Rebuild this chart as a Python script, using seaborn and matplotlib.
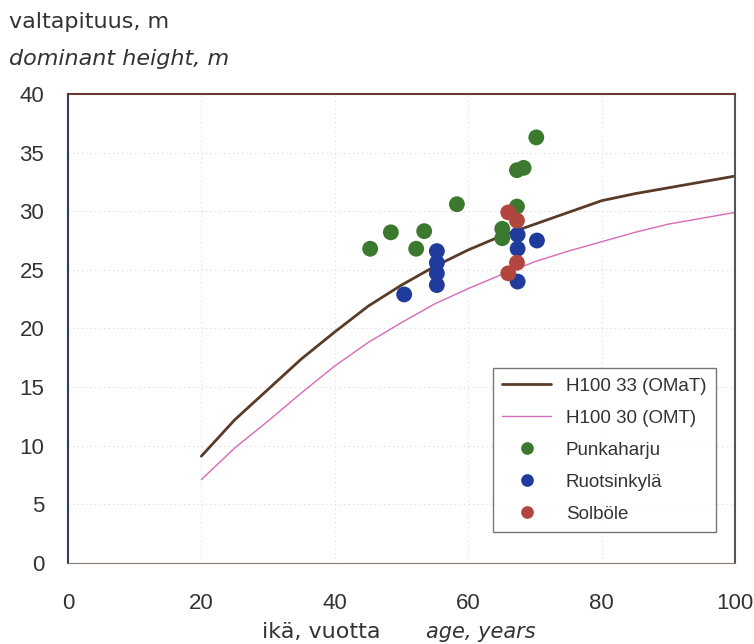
import pandas as pd
import seaborn as sns
import matplotlib.pyplot as plt

# Site index curves (age, dominant height)
curve_age = [20, 25, 30, 35, 40, 45, 50, 55, 60, 65, 70, 75, 80, 85, 90, 95, 100]
h100_33 = [9.1, 12.2, 14.8, 17.4, 19.7, 21.9, 23.7, 25.3, 26.7, 27.9, 28.9, 29.9, 30.9, 31.5, 32.0, 32.5, 33.0]
h100_30 = [7.1, 9.8, 12.1, 14.5, 16.8, 18.8, 20.5, 22.1, 23.4, 24.6, 25.7, 26.6, 27.4, 28.2, 28.9, 29.4, 29.9]

# Measured stands
punka_age = [45.3, 48.4, 52.2, 53.4, 58.3, 65.1, 65.1, 67.3, 67.3, 68.3, 70.2]
punka_h = [26.8, 28.2, 26.8, 28.3, 30.6, 28.5, 27.7, 30.4, 33.5, 33.7, 36.3]
ruots_age = [50.4, 55.3, 55.3, 55.3, 55.3, 67.4, 67.4, 67.4, 70.3]
ruots_h = [22.9, 26.6, 25.6, 24.7, 23.7, 28.0, 26.8, 24.0, 27.5]
solb_age = [66.0, 67.3, 67.3, 66.0]
solb_h = [29.9, 29.2, 25.6, 24.7]

sns.set_style("white")
plt.rcParams['font.family'] = ['DejaVu Sans']

curves = pd.DataFrame({'age': curve_age, 'h33': h100_33, 'h30': h100_30})
sites = pd.concat([
    pd.DataFrame({'age': punka_age, 'h': punka_h, 'site': 'Punkaharju'}),
    pd.DataFrame({'age': ruots_age, 'h': ruots_h, 'site': 'Ruotsinkylä'}),
    pd.DataFrame({'age': solb_age, 'h': solb_h, 'site': 'Solböle'}),
])
site_colors = {'Punkaharju': '#3b7a2e', 'Ruotsinkylä': '#1f3c9c', 'Solböle': '#b2453e'}

fig = plt.figure(figsize=(7.54, 6.44), dpi=100)
ax = fig.add_axes([0.090, 0.126, 0.885, 0.728])

sns.lineplot(data=curves, x='age', y='h33', ax=ax, color='#5a3b28', lw=2,
             label='H100 33 (OMaT)')
sns.lineplot(data=curves, x='age', y='h30', ax=ax, color='#d66ab8', lw=1,
             label='H100 30 (OMT)')
sns.scatterplot(data=sites, x='age', y='h', hue='site', palette=site_colors, ax=ax,
                s=130, edgecolor='none', zorder=3)

ax.set_xlim(0, 100)
ax.set_ylim(0, 40)
ax.set_xticks(range(0, 101, 20))
ax.set_yticks(range(0, 41, 5))
ax.tick_params(labelsize=16, colors='#333333', width=1)
ax.tick_params(axis='y', direction='out', length=5, pad=12)
ax.tick_params(axis='x', direction='inout', length=8, pad=18)
for lab in ax.get_xticklabels() + ax.get_yticklabels():
    lab.set_family('Liberation Sans')
ax.set_xlabel('')
ax.set_ylabel('')

for y in range(5, 40, 5):
    ax.axhline(y, color='#ecccd9', lw=0.8, ls=(0, (1, 3)), zorder=0)
for x in range(20, 100, 20):
    ax.axvline(x, color='#d2e2ee', lw=0.8, ls=(0, (1, 3)), zorder=0)

for side in ['left', 'right', 'top', 'bottom']:
    ax.spines[side].set_visible(True)
ax.spines['left'].set_color('#2f3f5a')
ax.spines['right'].set_color('#555555')
ax.spines['top'].set_color('#6a3a30')
ax.spines['bottom'].set_color('#8a7a70')
ax.spines['left'].set_linewidth(1.5)
ax.spines['top'].set_linewidth(1.5)
ax.spines['right'].set_linewidth(1.5)

fig.text(0.012, 0.966, 'valtapituus, m', fontsize=16, color='#333333', va='center')
fig.text(0.012, 0.909, 'dominant height, m', fontsize=16, color='#333333',
         style='italic', va='center')
fig.text(0.504, 0.018, 'ikä, vuotta', fontsize=16, color='#333333', ha='right', va='center')
fig.text(0.565, 0.018, 'age, years', fontsize=15, color='#333333', style='italic',
         ha='left', va='center')

leg = ax.legend(loc='lower right', bbox_to_anchor=(0.985, 0.045),
                prop={'family': 'Liberation Sans', 'size': 13.5},
                frameon=True, fancybox=False, edgecolor='#555555', markerscale=0.8,
                handlelength=2.6, labelspacing=0.8, borderpad=0.5)
leg.get_frame().set_linewidth(1.0)
for t in leg.get_texts():
    t.set_color('#333333')

fig.savefig('out.png', dpi=100)
